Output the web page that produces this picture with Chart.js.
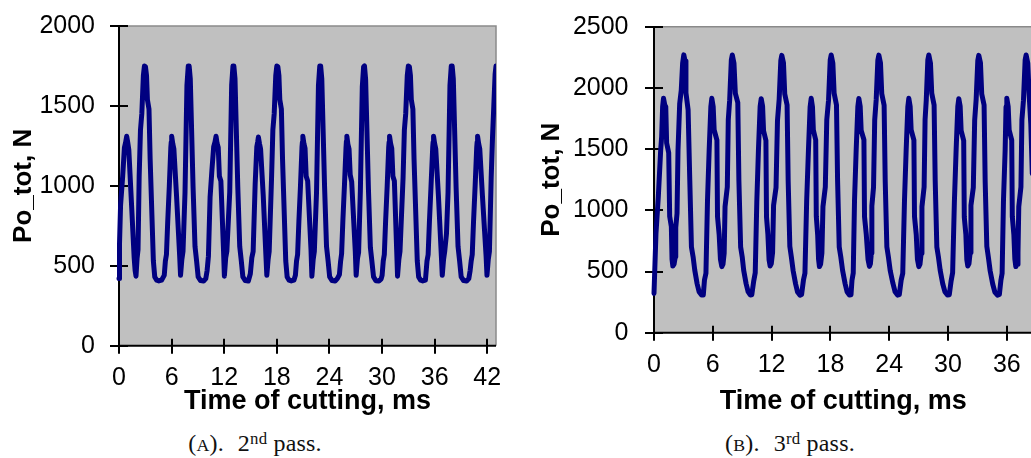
<!DOCTYPE html>
<html>
<head>
<meta charset="utf-8">
<script src="https://cdn.jsdelivr.net/npm/chart.js@4.4.1/dist/chart.umd.min.js"></script>
<style>
  html, body { margin: 0; padding: 0; background: #fff; overflow: hidden; width: 1031px; height: 458px; }
  #wrap { position: relative; width: 1031px; height: 458px; overflow: hidden; }
  .panel { position: absolute; top: 0; height: 420px; }
  .cap {
    position: absolute; top: 433px; width: 300px; text-align: center;
    font-family: "Liberation Serif", "Times New Roman", serif; font-size: 24px; line-height: 20px;
    color: #111; letter-spacing: 0.2px; white-space: nowrap;
  }
  .cap .sc { font-size: 0.74em; }
  .cap sup { font-size: 0.7em; vertical-align: 0.42em; line-height: 0; }
  .cap .gap { display: inline-block; width: 14px; }
</style>
</head>
<body>
<div id="wrap">
  <div class="panel" style="left:0; width:510px;"><canvas id="pass2" width="510" height="420" style="width:510px;height:420px"></canvas></div>
  <div class="panel" style="left:520px; width:520px;"><canvas id="pass3" width="520" height="420" style="width:520px;height:420px"></canvas></div>
  <div class="cap" style="left:105px;">(<span class="sc">A</span>).<span class="gap"></span>2<sup>nd</sup> pass.</div>
  <div class="cap" style="left:640px;">(<span class="sc">B</span>).<span class="gap"></span>3<sup>rd</sup> pass.</div>
</div>
<script>
// ---- 2nd pass: total force Po_tot (N) against cutting time (ms) ----
const time2 = [
  0.00,0.06,0.18,0.42,0.62,0.75,0.88,1.00,1.12,1.45,1.73,1.84,1.94,2.06,2.17,2.30,2.45,2.60,2.78,2.90,3.02,3.14,3.24,3.42,3.55,3.92,4.08,4.30,4.55,4.85,
  5.16,5.29,5.41,5.56,5.74,5.91,5.96,6.01,6.13,6.26,6.56,6.92,7.02,7.17,7.30,7.53,7.75,7.90,8.00,8.13,8.45,8.67,8.85,9.03,9.30,9.65,9.90,
  10.05,10.20,10.39,10.60,10.80,10.95,11.07,11.19,11.32,11.45,11.62,11.92,12.02,12.17,12.30,12.63,12.85,13.00,13.10,13.23,13.55,13.77,13.95,14.13,14.40,14.75,14.98,
  15.15,15.30,15.53,15.72,15.82,15.90,16.02,16.15,16.45,16.76,16.86,17.01,17.13,17.40,17.55,17.70,17.88,18.00,18.12,18.24,18.34,18.52,18.65,19.02,19.18,19.40,19.65,19.95,
  20.12,20.25,20.37,20.52,20.70,20.87,20.92,20.97,21.09,21.22,21.35,21.52,21.90,22.00,22.15,22.28,22.53,22.75,22.90,23.00,23.13,23.45,23.67,23.85,24.03,24.30,24.65,24.90,
  25.14,25.27,25.39,25.54,25.72,25.89,25.94,25.99,26.11,26.24,26.37,26.54,26.95,27.05,27.20,27.33,27.53,27.75,27.90,28.00,28.13,28.45,28.67,28.85,29.03,29.30,29.65,29.90,
  30.01,30.14,30.26,30.41,30.59,30.76,30.81,30.86,30.98,31.11,31.24,31.41,31.67,31.77,31.92,32.05,32.40,32.55,32.70,32.88,33.00,33.12,33.24,33.34,33.52,33.65,34.02,34.18,34.40,34.65,34.95,
  35.13,35.26,35.41,35.59,35.78,35.83,35.88,36.00,36.13,36.43,36.77,36.87,37.02,37.15,37.35,37.53,37.75,37.90,38.00,38.13,38.45,38.67,38.85,39.03,39.30,39.65,39.90,
  40.05,40.17,40.29,40.44,40.62,40.80,40.85,40.90,41.02,41.15,41.45,41.87,41.97,42.12,42.25,42.45,42.60,42.75,42.90,43.00
];
const force2 = [
  420,640,880,1060,1240,1270,1310,1270,1225,860,550,470,435,545,600,1060,1350,1450,1690,1750,1745,1690,1540,1480,1170,530,430,410,405,410,
  440,530,570,780,1000,1240,1275,1310,1265,1230,940,560,440,540,590,960,1630,1750,1750,1670,990,620,530,430,408,405,420,
  470,560,930,1100,1245,1275,1310,1265,1240,1060,1030,600,435,550,590,960,1630,1750,1750,1670,990,620,530,430,408,405,450,
  550,590,1010,1245,1275,1305,1265,1230,940,560,440,540,590,1050,1350,1450,1690,1750,1745,1690,1540,1480,1170,530,430,410,405,410,
  440,530,570,780,1000,1240,1275,1310,1265,1235,1060,1030,600,435,540,590,960,1630,1750,1750,1670,990,620,530,430,408,405,420,
  445,525,575,790,1010,1235,1280,1310,1260,1230,1070,1025,590,440,545,585,970,1620,1745,1750,1665,980,615,525,432,406,404,418,
  440,530,570,780,1000,1240,1275,1310,1265,1235,1060,1030,600,435,540,590,1050,1350,1450,1690,1750,1745,1690,1540,1480,1170,530,430,410,405,410,
  530,570,780,1000,1240,1275,1310,1265,1230,940,560,440,540,590,700,960,1630,1750,1750,1670,990,620,530,430,408,405,420,
  470,530,570,780,1000,1240,1275,1310,1265,1230,940,560,440,540,590,1050,1300,1500,1700,1750
];

// ---- 3rd pass ----
const time3 = [
  0.00,0.20,0.44,0.68,0.78,0.88,0.97,1.10,1.20,1.29,1.50,1.60,1.77,1.84,1.92,2.05,2.17,2.22,2.35,2.45,2.62,2.78,2.92,3.04,3.17,3.26,3.48,3.65,3.82,3.99,4.16,4.40,4.60,4.85,5.03,
  5.15,5.30,5.46,5.63,5.80,5.90,6.04,6.14,6.42,6.48,6.65,6.78,6.92,7.04,7.16,7.25,7.48,7.58,7.72,7.89,7.99,8.16,8.30,8.55,8.66,8.84,9.00,9.15,9.40,9.60,9.82,9.98,
  10.18,10.33,10.49,10.66,10.83,10.94,11.08,11.18,11.42,11.48,11.62,11.74,11.85,11.97,12.10,12.20,12.45,12.60,12.77,12.94,13.04,13.21,13.34,13.58,13.69,13.86,14.02,14.20,14.45,14.65,14.90,15.06,
  15.25,15.40,15.58,15.76,15.93,16.04,16.17,16.26,16.50,16.56,16.70,16.79,16.88,17.00,17.13,17.24,17.48,17.63,17.81,17.98,18.08,18.25,18.38,18.62,18.73,18.90,19.06,19.24,19.50,19.70,19.94,20.10,
  20.20,20.33,20.46,20.63,20.80,20.90,21.04,21.14,21.42,21.48,21.66,21.84,21.98,22.08,22.18,22.23,22.40,22.52,22.67,22.84,22.94,23.11,23.24,23.48,23.59,23.76,23.92,24.10,24.38,24.60,24.85,25.03,
  25.22,25.38,25.56,25.73,25.90,26.00,26.14,26.24,26.52,26.58,26.76,26.88,27.02,27.14,27.26,27.34,27.56,27.66,27.78,27.94,28.04,28.21,28.34,28.58,28.69,28.86,29.02,29.20,29.46,29.68,29.94,30.13,
  30.32,30.47,30.65,30.83,31.00,31.10,31.24,31.34,31.60,31.66,31.82,31.92,32.02,32.14,32.26,32.34,32.58,32.72,32.87,33.04,33.14,33.31,33.44,33.68,33.79,33.96,34.12,34.30,34.56,34.78,35.05,35.24,
  35.40,35.52,35.66,35.83,35.92,36.00,36.14,36.24,36.50,36.56,36.72,36.82,36.92,37.04,37.14,37.22,37.44,37.54,37.70,37.87,37.97,38.14,38.27,38.45,38.60
];
const force3 = [
  320,810,1110,1490,1600,1845,1915,1860,1846,1550,1470,950,866,600,545,560,620,860,975,1490,1870,1980,2200,2270,2220,1960,1820,1250,700,620,510,400,335,308,308,
  430,485,1084,1493,1846,1915,1846,1656,1574,950,800,600,540,560,650,1030,1190,1740,1900,2228,2269,2201,1956,1880,1250,700,620,510,400,335,308,310,
  425,490,1070,1500,1850,1912,1850,1650,1570,945,805,595,545,565,655,1040,1185,1735,1905,2225,2266,2205,1950,1860,1240,705,615,505,398,332,306,312,
  430,485,1084,1493,1846,1915,1846,1656,1574,950,800,600,540,560,650,1030,1190,1740,1900,2228,2269,2201,1956,1860,1250,700,620,510,400,335,308,310,
  428,488,1080,1495,1848,1914,1848,1652,1576,948,802,598,542,562,652,1035,1188,1738,1902,2226,2268,2203,1952,1858,1245,702,618,508,402,334,307,311,
  430,485,1084,1493,1846,1915,1846,1656,1574,950,800,600,540,560,650,1030,1190,1740,1900,2228,2269,2201,1956,1860,1250,700,620,510,400,335,308,310,
  425,490,1070,1500,1850,1912,1850,1650,1570,945,805,595,545,565,655,1040,1185,1735,1905,2225,2266,2205,1950,1860,1240,705,615,505,398,332,306,312,
  430,485,1084,1493,1846,1915,1846,1656,1574,950,800,600,540,560,650,1030,1190,1740,1900,2228,2269,2201,1956,1700,1300
];

// Axis titles and tick steps
const xTitle = 'Time of cutting, ms';
const yTitle = 'Po_tot, N';
const xStep = 6;
const yStep = 500;

const SANS = "'Liberation Sans', Arial, Helvetica, sans-serif";
Chart.defaults.font.family = SANS;
Chart.defaults.color = '#000';

// Grey plot area, grey top/right frame, black axes and tick marks crossing the axes
const plotFrame = {
  id: 'plotFrame',
  beforeDatasetsDraw(chart) {
    const { ctx, chartArea: a, scales: { x, y } } = chart;
    ctx.save();
    ctx.fillStyle = '#c0c0c0';
    ctx.fillRect(a.left, a.top, a.right - a.left, a.bottom - a.top);
    ctx.strokeStyle = '#8a8a8a';
    ctx.lineWidth = 1.5;
    ctx.beginPath();
    ctx.moveTo(a.left, a.top); ctx.lineTo(a.right, a.top); ctx.lineTo(a.right, a.bottom);
    ctx.stroke();
    ctx.strokeStyle = '#000';
    ctx.lineWidth = 2;
    ctx.beginPath();
    ctx.moveTo(a.left, a.top); ctx.lineTo(a.left, a.bottom); ctx.lineTo(a.right, a.bottom);
    ctx.stroke();
    ctx.beginPath();
    x.ticks.forEach(t => {
      const px = Math.round(x.getPixelForValue(t.value));
      ctx.moveTo(px, a.bottom - 7); ctx.lineTo(px, a.bottom + 8);
    });
    y.ticks.forEach(t => {
      const py = Math.round(y.getPixelForValue(t.value));
      ctx.moveTo(a.left - 9, py); ctx.lineTo(a.left + 9, py);
    });
    ctx.stroke();
    ctx.restore();
  }
};

const plainNumber = v => String(v);

function buildChart(id, ts, vs, g) {
  const points = ts.map((t, i) => ({ x: t, y: vs[i] }));
  return new Chart(document.getElementById(id), {
    type: 'line',
    data: {
      datasets: [{
        data: points,
        borderColor: '#000080',
        borderWidth: 5,
        borderJoinStyle: 'round',
        borderCapStyle: 'round',
        pointRadius: 0,
        tension: 0,
        fill: false,
        clip: { left: 3, top: 6, right: 0, bottom: 6 }
      }]
    },
    options: {
      responsive: false,
      animation: false,
      devicePixelRatio: 1,
      layout: { padding: { top: g.padTop, right: g.padRight, left: 0, bottom: 0 } },
      plugins: { legend: { display: false }, tooltip: { enabled: false } },
      scales: {
        x: {
          type: 'linear', min: 0, max: g.xMax,
          grid: { display: false, drawTicks: false },
          border: { display: false },
          ticks: { stepSize: xStep, includeBounds: false, autoSkip: false, maxRotation: 0,
                   padding: 17, color: '#000', font: { size: 25 }, callback: plainNumber },
          title: { display: true, text: xTitle, color: '#000',
                   font: { size: 27, weight: 'bold' }, padding: { top: 0, bottom: 2 } },
          afterFit(s) { s.height = g.xAxisH; s.paddingLeft = 0; s.paddingRight = 0; }
        },
        y: {
          type: 'linear', min: 0, max: g.yMax,
          grid: { display: false, drawTicks: false },
          border: { display: false },
          ticks: { stepSize: yStep, includeBounds: false, padding: g.yTickPad,
                   color: '#000', font: { size: 25 }, callback: plainNumber },
          title: { display: true, text: yTitle, color: '#000',
                   font: { size: 26, weight: 'bold' }, padding: { top: g.yTitlePad, bottom: 0 } },
          afterFit(s) { s.width = g.yAxisW; s.paddingTop = 0; s.paddingBottom = 0; }
        }
      }
    },
    plugins: [plotFrame]
  });
}

buildChart('pass2', time2, force2, {
  xMax: 43, yMax: 2000, padTop: 26, padRight: 14,
  yAxisW: 119, xAxisH: 74.3, yTickPad: 24, yTitlePad: 8
});
buildChart('pass3', time3, force3, {
  xMax: 38.6, yMax: 2500, padTop: 26.7, padRight: 7.7,
  yAxisW: 134, xAxisH: 87.3, yTickPad: 25.5, yTitlePad: 16
});
</script>
</body>
</html>
